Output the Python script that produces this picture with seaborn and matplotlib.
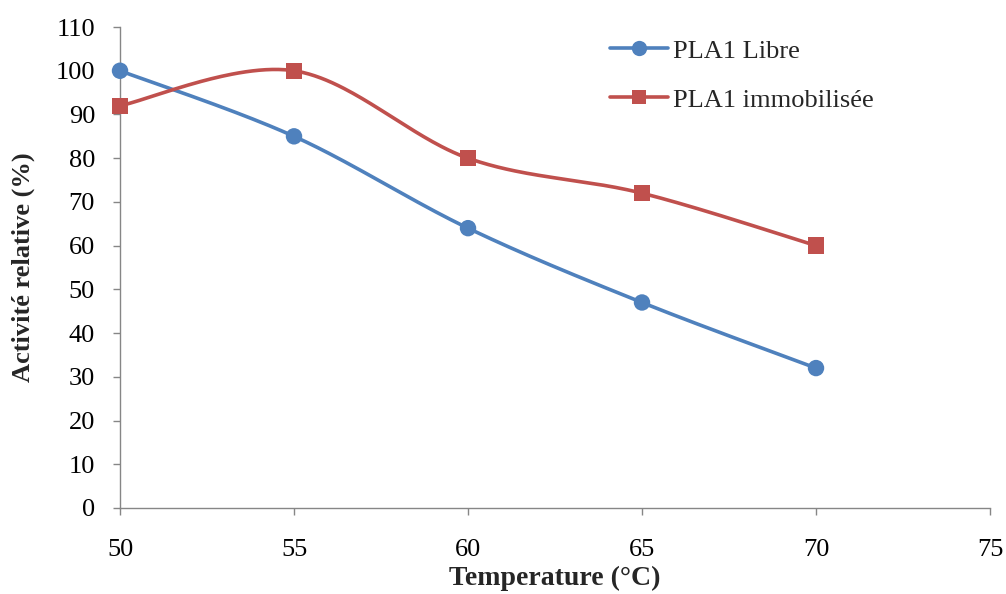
import numpy as np
import pandas as pd
import matplotlib
matplotlib.use("Agg")
import matplotlib.pyplot as plt
from matplotlib.lines import Line2D
import seaborn as sns

# Data
temperature = [50, 55, 60, 65, 70]
libre = [100, 85, 64, 47, 32]
immobilisee = [92, 100, 80, 72, 60]
series_names = ["PLA1 Libre", "PLA1 immobilisée"]
x_ticks = [50, 55, 60, 65, 70, 75]
y_ticks = list(range(0, 111, 10))

BLUE = "#4F81BD"
RED = "#C0504D"
AXIS_GREY = "#868686"


def smooth_curve(x, y, n=60):
    """Catmull-Rom style Bezier smoothing through every point."""
    x = np.asarray(x, float)
    y = np.asarray(y, float)
    px = np.concatenate([[x[0]], x, [x[-1]]])
    py = np.concatenate([[y[0]], y, [y[-1]]])
    xs, ys = [], []
    t = np.linspace(0, 1, n)
    for i in range(1, len(px) - 2):
        p0 = np.array([px[i], py[i]])
        p3 = np.array([px[i + 1], py[i + 1]])
        c1 = p0 + (np.array([px[i + 1], py[i + 1]]) - np.array([px[i - 1], py[i - 1]])) / 6
        c2 = p3 - (np.array([px[i + 2], py[i + 2]]) - np.array([px[i], py[i]])) / 6
        b = ((1 - t) ** 3)[:, None] * p0 + (3 * (1 - t) ** 2 * t)[:, None] * c1 \
            + (3 * (1 - t) * t ** 2)[:, None] * c2 + (t ** 3)[:, None] * p3
        xs.append(b[:, 0])
        ys.append(b[:, 1])
    return np.concatenate(xs), np.concatenate(ys)


sns.set_theme(style="white")
plt.rcParams["font.family"] = ["Liberation Serif", "DejaVu Serif"]

FS = 19

fig = plt.figure(figsize=(10.06, 5.94), dpi=100)
ax = fig.add_axes([0.1193, 0.1448, 0.8648, 0.8097])

curves = []
for name, vals in zip(series_names, [libre, immobilisee]):
    cx, cy = smooth_curve(temperature, vals)
    curves.append(pd.DataFrame({"x": cx, "y": cy, "serie": name}))
curve_df = pd.concat(curves, ignore_index=True)

points_df = pd.DataFrame({
    "x": temperature * 2,
    "y": libre + immobilisee,
    "serie": [series_names[0]] * 5 + [series_names[1]] * 5,
})

palette = {series_names[0]: BLUE, series_names[1]: RED}
sns.lineplot(data=curve_df, x="x", y="y", hue="serie", palette=palette,
             sort=False, estimator=None, units="serie", linewidth=2.6,
             legend=False, ax=ax, zorder=2)
sns.scatterplot(data=points_df, x="x", y="y", hue="serie", style="serie",
                markers={series_names[0]: "o", series_names[1]: "s"},
                palette=palette, s=140, edgecolor=None, linewidth=0,
                legend=False, ax=ax, zorder=3, clip_on=False)

ax.set_xlim(50, 75)
ax.set_ylim(0, 110)
ax.set_xticks(x_ticks)
ax.set_yticks(y_ticks)
ax.tick_params(axis="both", which="both", direction="out", length=5, width=1,
               color=AXIS_GREY, labelsize=FS, labelcolor="black",
               left=True, bottom=True)
ax.tick_params(axis="y", pad=13)
ax.tick_params(axis="x", pad=17)

for side in ["top", "right"]:
    ax.spines[side].set_visible(False)
for side in ["left", "bottom"]:
    ax.spines[side].set_color(AXIS_GREY)
    ax.spines[side].set_linewidth(1.0)

ax.set_xlabel("Temperature (°C)", fontsize=20, fontweight="bold", labelpad=4)
ax.set_ylabel("Activité relative (%)", fontsize=FS, fontweight="bold", labelpad=15)

handles = [
    Line2D([], [], color=BLUE, lw=2.6, marker="o", markersize=11, markeredgewidth=0),
    Line2D([], [], color=RED, lw=2.6, marker="s", markersize=10, markeredgewidth=0),
]
ax.legend(handles, series_names, loc="upper left", bbox_to_anchor=(0.563, 0.975),
          frameon=False, fontsize=FS, handlelength=2.2, handletextpad=0.2,
          labelspacing=0.97, borderpad=0, borderaxespad=0)

fig.savefig("out.png", dpi=100)
